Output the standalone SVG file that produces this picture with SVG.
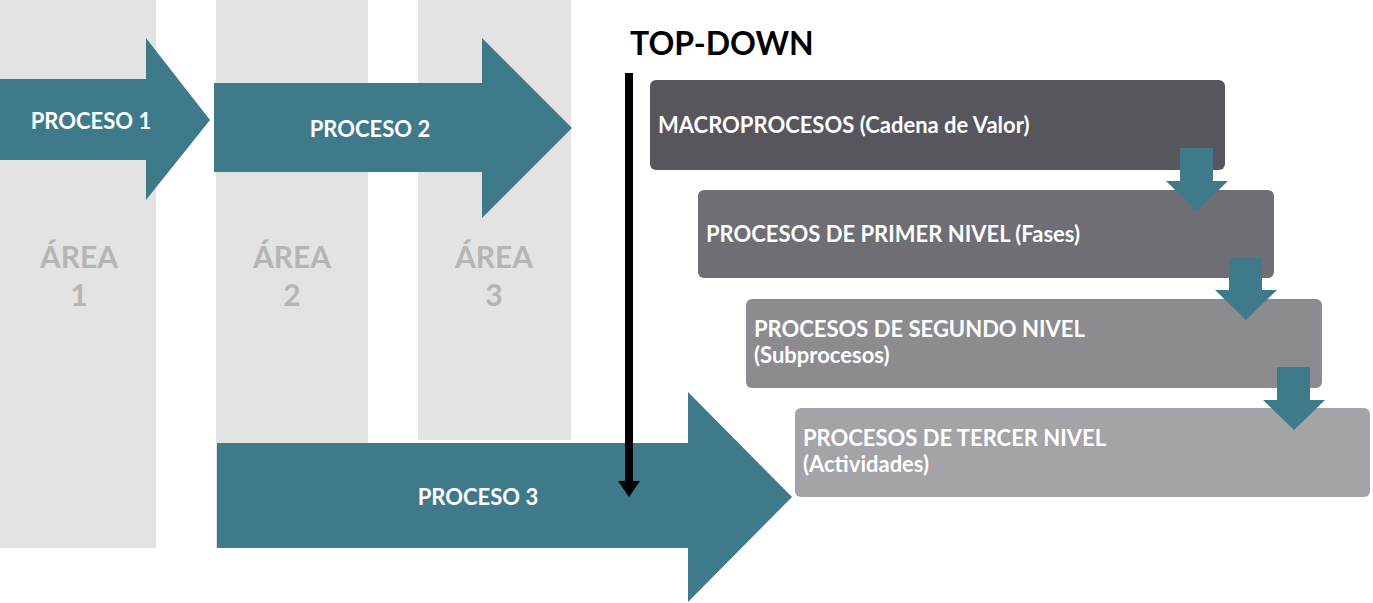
<svg xmlns="http://www.w3.org/2000/svg" width="1373" height="603" viewBox="0 0 1373 603">
<style>
.col{fill:#e3e3e3}
.ar{fill:#3e7a8a}
.t{font-family:Lato,"Liberation Sans",sans-serif;font-weight:bold;fill:#fff;font-size:22px}
.area{font-family:Lato,"Liberation Sans",sans-serif;font-weight:bold;fill:#b5b5b5;font-size:30px;text-anchor:middle}
</style>
<rect width="1373" height="603" fill="#fff"/>
<g id="area1"><rect class="col" x="0" y="0" width="156" height="548"/><text class="area" x="79" y="268">ÁREA</text><text class="area" x="79" y="306">1</text></g>
<g id="area2"><rect class="col" x="216" y="0" width="152" height="548"/><text class="area" x="292" y="268">ÁREA</text><text class="area" x="292" y="306">2</text></g>
<g id="area3"><rect class="col" x="418" y="0" width="153" height="440"/><text class="area" x="494" y="268">ÁREA</text><text class="area" x="494" y="306">3</text></g>
<g id="proceso1"><polygon class="ar" points="0,79 146,79 146,38 210,120 146,200 146,160 0,160"/><text class="t" x="91" y="129" text-anchor="middle">PROCESO 1</text></g>
<g id="proceso2"><polygon class="ar" points="214,83 482,83 482,38 572,128 482,218 482,172 214,172"/><text class="t" x="370" y="137" text-anchor="middle">PROCESO 2</text></g>
<g id="proceso3"><polygon class="ar" points="217,443 688,443 688,392 792,497 688,602 688,548 217,548"/><text class="t" x="478" y="505" text-anchor="middle">PROCESO 3</text></g>
<g id="topdown"><text x="630" y="55" font-family="Lato,'Liberation Sans',sans-serif" font-weight="bold" font-size="32" fill="#000">TOP-DOWN</text></g>
<g id="connectors">
<rect x="625" y="73" width="8" height="410" fill="#000"/>
<polygon points="618,481 640,481 629,497" fill="#000"/>
</g>
<g id="macro"><rect x="650" y="80" width="575" height="90" rx="6" fill="#56565c"/><text class="t" x="658" y="133" font-size="20">MACROPROCESOS (Cadena de Valor)</text></g>
<g id="nivel1"><rect x="698" y="190" width="576" height="88" rx="6" fill="#6f6e74"/><text class="t" x="706" y="242" font-size="20">PROCESOS DE PRIMER NIVEL (Fases)</text></g>
<g id="nivel2"><rect x="746" y="299" width="576" height="89" rx="6" fill="#8c8b90"/><text class="t" x="754" y="337" font-size="20">PROCESOS DE SEGUNDO NIVEL</text><text class="t" x="754" y="363" font-size="20">(Subprocesos)</text></g>
<g id="nivel3"><rect x="795" y="408" width="575" height="89" rx="6" fill="#a4a3a8"/><text class="t" x="803" y="446" font-size="20">PROCESOS DE TERCER NIVEL</text><text class="t" x="803" y="472" font-size="20">(Actividades)</text></g>
<g id="steps">
<polygon class="ar" points="1180,148 1213,148 1213,181 1228,181 1197,211 1166,181 1180,181"/>
<polygon class="ar" points="1229,258 1262,258 1262,290 1277,290 1246,320 1215,290 1229,290"/>
<polygon class="ar" points="1277,367 1310,367 1310,400 1325,400 1294,430 1263,400 1277,400"/>
</g>
</svg>
